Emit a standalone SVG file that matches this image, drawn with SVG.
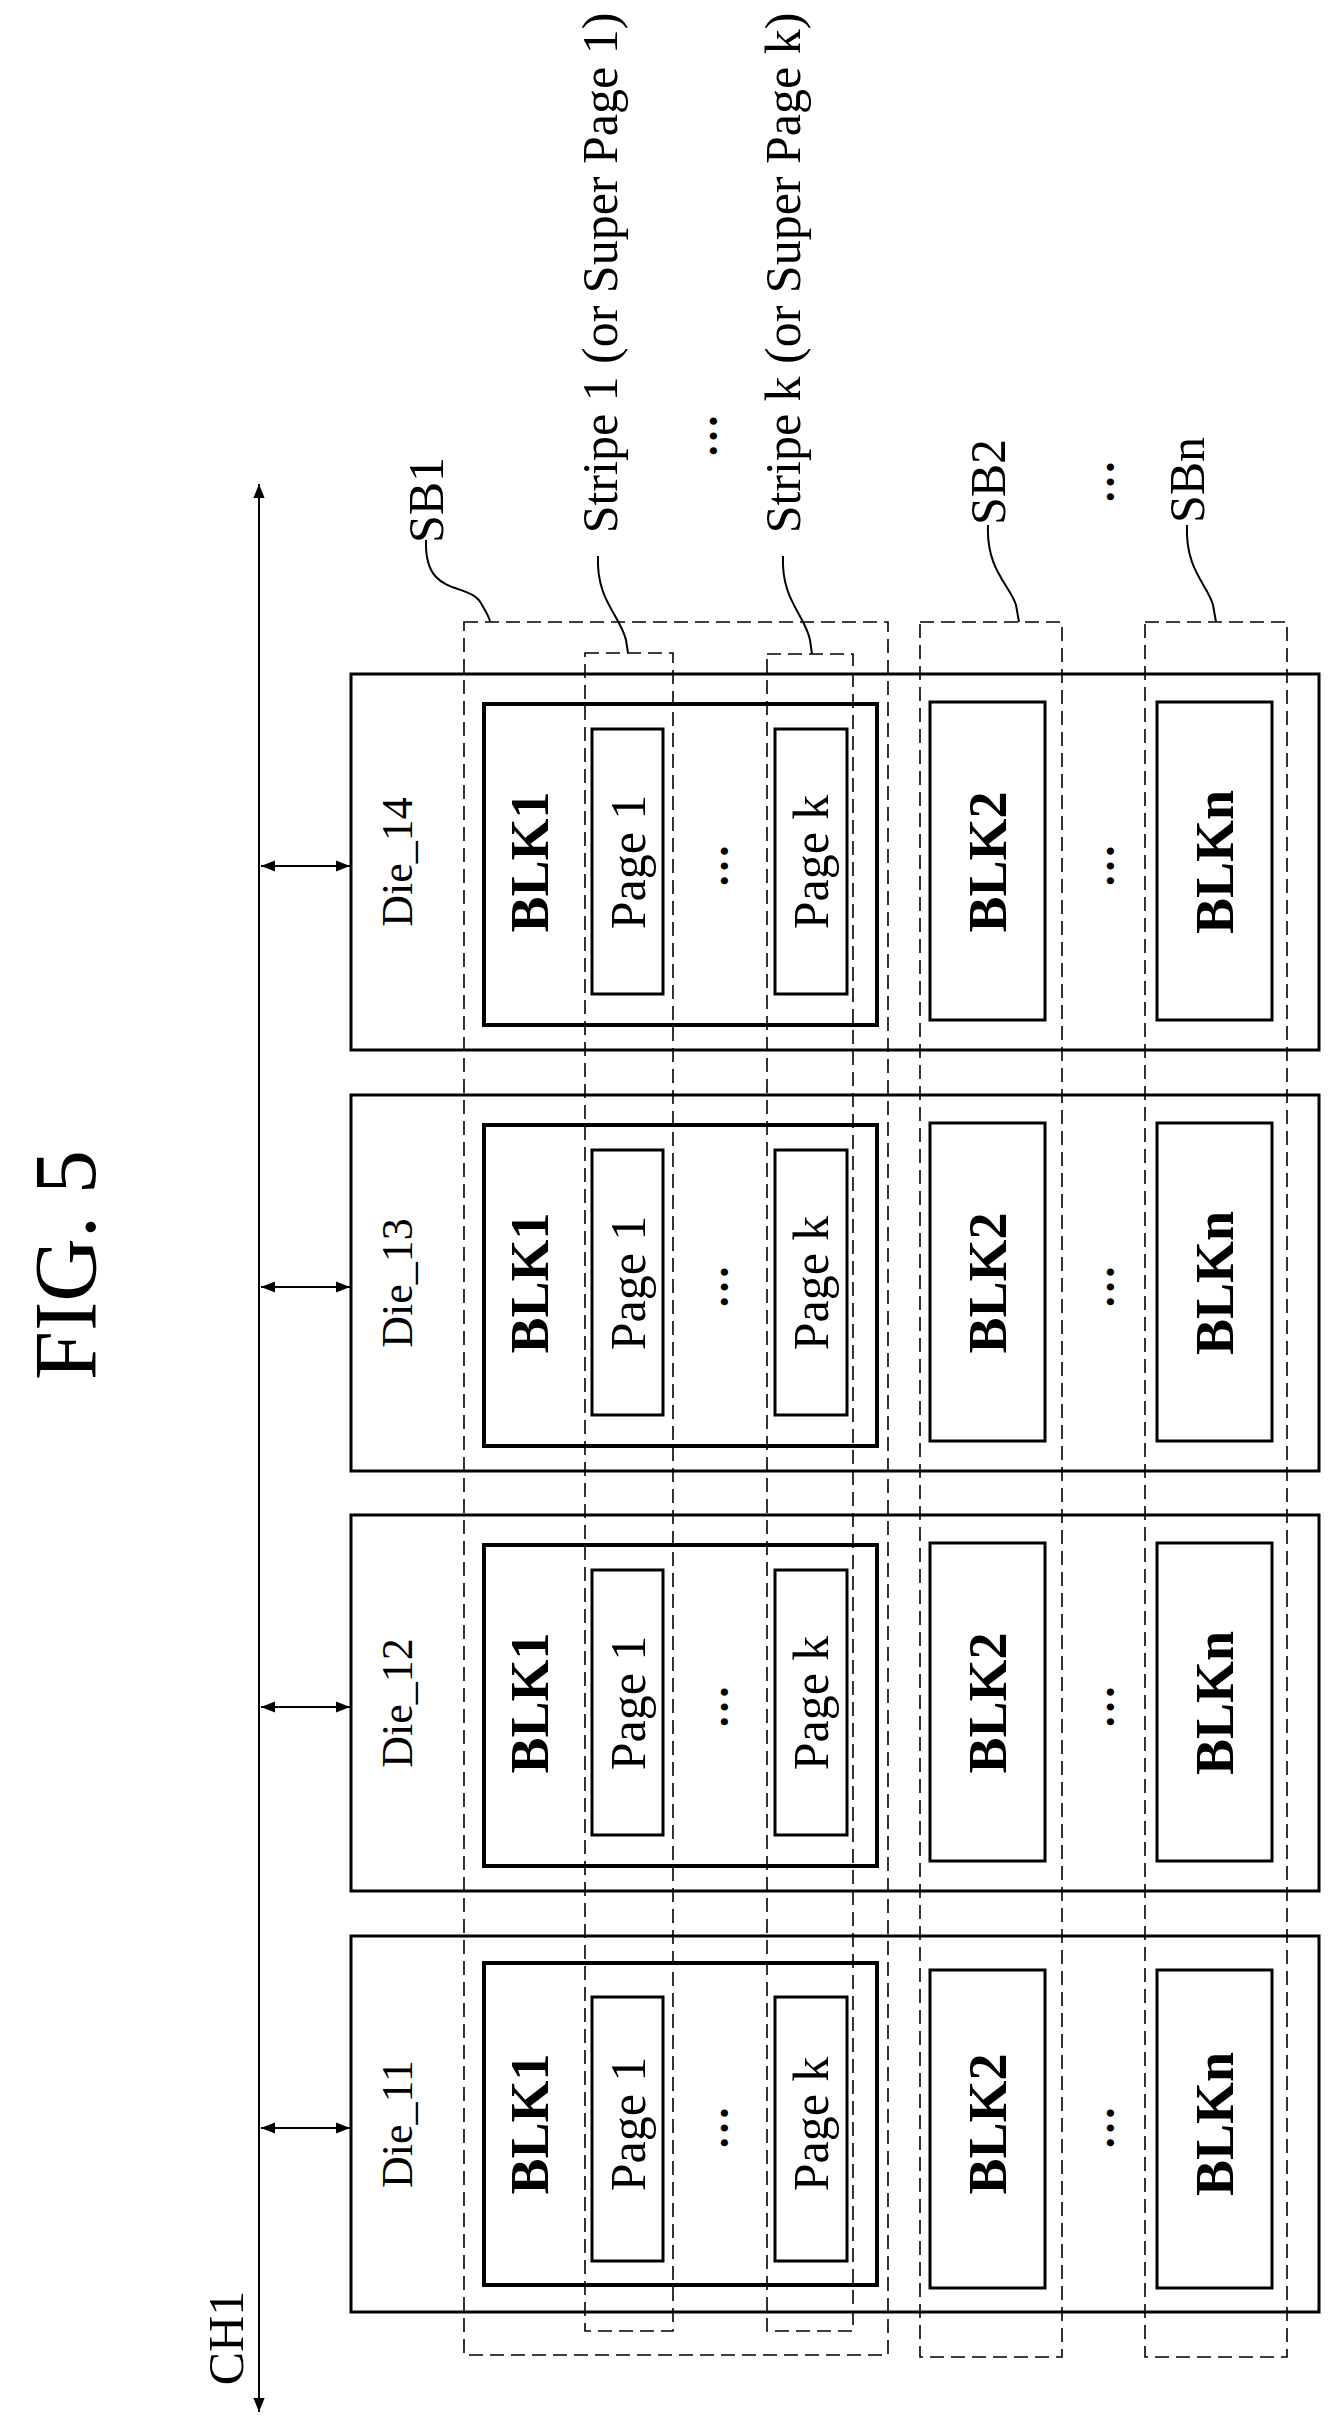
<svg xmlns="http://www.w3.org/2000/svg" width="1342" height="2435" viewBox="0 0 1342 2435">
<style>
.box{fill:none;stroke:#000;stroke-width:3}
.blk{fill:none;stroke:#000;stroke-width:4}
.dash{fill:none;stroke:#000;stroke-width:1.6;stroke-dasharray:14 7}
.ln{fill:none;stroke:#000;stroke-width:2}
text{font-family:"Liberation Serif","DejaVu Serif",serif;fill:#000;text-anchor:middle;dominant-baseline:central}
.t{font-size:44px}
.l{font-size:50px}
.p{font-size:50px}
.b{font-size:54px;font-weight:bold}
.d{font-size:44px;font-weight:bold}
</style>
<defs>
<marker id="ah2" viewBox="0 0 10 10" refX="10" refY="5" markerWidth="14" markerHeight="14" markerUnits="userSpaceOnUse" orient="auto-start-reverse"><path d="M0,1 L10,5 L0,9 Z" fill="#000"/></marker>
</defs>
<text class="t" transform="translate(65,1265) rotate(-90)" style="font-size:88px">FIG. 5</text>
<text class="l" transform="translate(226,2338) rotate(-90)">CH1</text>
<text class="l" transform="translate(426,500) rotate(-90)">SB1</text>
<text class="l" transform="translate(600,273) rotate(-90)">Stripe 1 (or Super Page 1)</text>
<text class="d" transform="translate(702,436) rotate(-90)">…</text>
<text class="l" transform="translate(783,273) rotate(-90)">Stripe k (or Super Page k)</text>
<text class="l" transform="translate(988,482) rotate(-90)">SB2</text>
<text class="d" transform="translate(1099,482) rotate(-90)">…</text>
<text class="l" transform="translate(1187,480) rotate(-90)">SBn</text>
<g id="connectors">
<line class="ln" x1="259" y1="2412" x2="259" y2="484" marker-start="url(#ah2)" marker-end="url(#ah2)"/>
<line class="ln" x1="261" y1="866" x2="350" y2="866" stroke-width="3" marker-start="url(#ah2)" marker-end="url(#ah2)"/>
<line class="ln" x1="261" y1="1287" x2="350" y2="1287" stroke-width="3" marker-start="url(#ah2)" marker-end="url(#ah2)"/>
<line class="ln" x1="261" y1="1707" x2="350" y2="1707" stroke-width="3" marker-start="url(#ah2)" marker-end="url(#ah2)"/>
<line class="ln" x1="261" y1="2128" x2="350" y2="2128" stroke-width="3" marker-start="url(#ah2)" marker-end="url(#ah2)"/>
<path class="ln" d="M426,540 C424,600 470,580 482,605 C488,615 490,620 490,622"/>
<path class="ln" d="M598,556 C596,600 620,615 626,640 L628,653"/>
<path class="ln" d="M783,556 C781,600 805,615 810,640 L812,654"/>
<path class="ln" d="M988,525 C986,570 1010,585 1016,605 L1019,622"/>
<path class="ln" d="M1187,525 C1185,570 1208,585 1213,605 L1216,622"/>
</g>
<g id="superblocks">
<rect class="dash" x="464" y="622" width="424" height="1733"/>
<rect class="dash" x="585" y="653" width="88" height="1678"/>
<rect class="dash" x="767" y="654" width="86" height="1677"/>
<rect class="dash" x="920" y="622" width="142" height="1735"/>
<rect class="dash" x="1145" y="622" width="142" height="1735"/>
</g>
<g id="die14" transform="translate(0,674)">
<rect class="box" x="351" y="0" width="968" height="376"/>
<text class="t" transform="translate(397,188) rotate(-90)">Die_14</text>
<rect class="blk" x="484" y="30" width="393" height="321"/>
<text class="b" transform="translate(530,188) rotate(-90)">BLK1</text>
<rect class="box" x="592" y="55" width="71" height="265"/>
<text class="p" transform="translate(628,188) rotate(-90)">Page 1</text>
<text class="d" transform="translate(713,192) rotate(-90)">…</text>
<rect class="box" x="775" y="55" width="72" height="265"/>
<text class="p" transform="translate(811,188) rotate(-90)">Page k</text>
<rect class="box" x="930" y="28" width="115" height="318"/>
<text class="b" transform="translate(988,188) rotate(-90)">BLK2</text>
<text class="d" transform="translate(1099,192) rotate(-90)">…</text>
<rect class="box" x="1157" y="28" width="115" height="318"/>
<text class="b" transform="translate(1215,188) rotate(-90)">BLKn</text>
</g>
<g id="die13" transform="translate(0,1095)">
<rect class="box" x="351" y="0" width="968" height="376"/>
<text class="t" transform="translate(397,188) rotate(-90)">Die_13</text>
<rect class="blk" x="484" y="30" width="393" height="321"/>
<text class="b" transform="translate(530,188) rotate(-90)">BLK1</text>
<rect class="box" x="592" y="55" width="71" height="265"/>
<text class="p" transform="translate(628,188) rotate(-90)">Page 1</text>
<text class="d" transform="translate(713,192) rotate(-90)">…</text>
<rect class="box" x="775" y="55" width="72" height="265"/>
<text class="p" transform="translate(811,188) rotate(-90)">Page k</text>
<rect class="box" x="930" y="28" width="115" height="318"/>
<text class="b" transform="translate(988,188) rotate(-90)">BLK2</text>
<text class="d" transform="translate(1099,192) rotate(-90)">…</text>
<rect class="box" x="1157" y="28" width="115" height="318"/>
<text class="b" transform="translate(1215,188) rotate(-90)">BLKn</text>
</g>
<g id="die12" transform="translate(0,1515)">
<rect class="box" x="351" y="0" width="968" height="376"/>
<text class="t" transform="translate(397,188) rotate(-90)">Die_12</text>
<rect class="blk" x="484" y="30" width="393" height="321"/>
<text class="b" transform="translate(530,188) rotate(-90)">BLK1</text>
<rect class="box" x="592" y="55" width="71" height="265"/>
<text class="p" transform="translate(628,188) rotate(-90)">Page 1</text>
<text class="d" transform="translate(713,192) rotate(-90)">…</text>
<rect class="box" x="775" y="55" width="72" height="265"/>
<text class="p" transform="translate(811,188) rotate(-90)">Page k</text>
<rect class="box" x="930" y="28" width="115" height="318"/>
<text class="b" transform="translate(988,188) rotate(-90)">BLK2</text>
<text class="d" transform="translate(1099,192) rotate(-90)">…</text>
<rect class="box" x="1157" y="28" width="115" height="318"/>
<text class="b" transform="translate(1215,188) rotate(-90)">BLKn</text>
</g>
<g id="die11" transform="translate(0,1936)">
<rect class="box" x="351" y="0" width="968" height="376"/>
<text class="t" transform="translate(397,188) rotate(-90)">Die_11</text>
<rect class="blk" x="484" y="27" width="393" height="322"/>
<text class="b" transform="translate(530,188) rotate(-90)">BLK1</text>
<rect class="box" x="592" y="61" width="71" height="264"/>
<text class="p" transform="translate(628,188) rotate(-90)">Page 1</text>
<text class="d" transform="translate(713,192) rotate(-90)">…</text>
<rect class="box" x="775" y="61" width="72" height="264"/>
<text class="p" transform="translate(811,188) rotate(-90)">Page k</text>
<rect class="box" x="930" y="34" width="115" height="318"/>
<text class="b" transform="translate(988,188) rotate(-90)">BLK2</text>
<text class="d" transform="translate(1099,192) rotate(-90)">…</text>
<rect class="box" x="1157" y="34" width="115" height="318"/>
<text class="b" transform="translate(1215,188) rotate(-90)">BLKn</text>
</g>
</svg>
